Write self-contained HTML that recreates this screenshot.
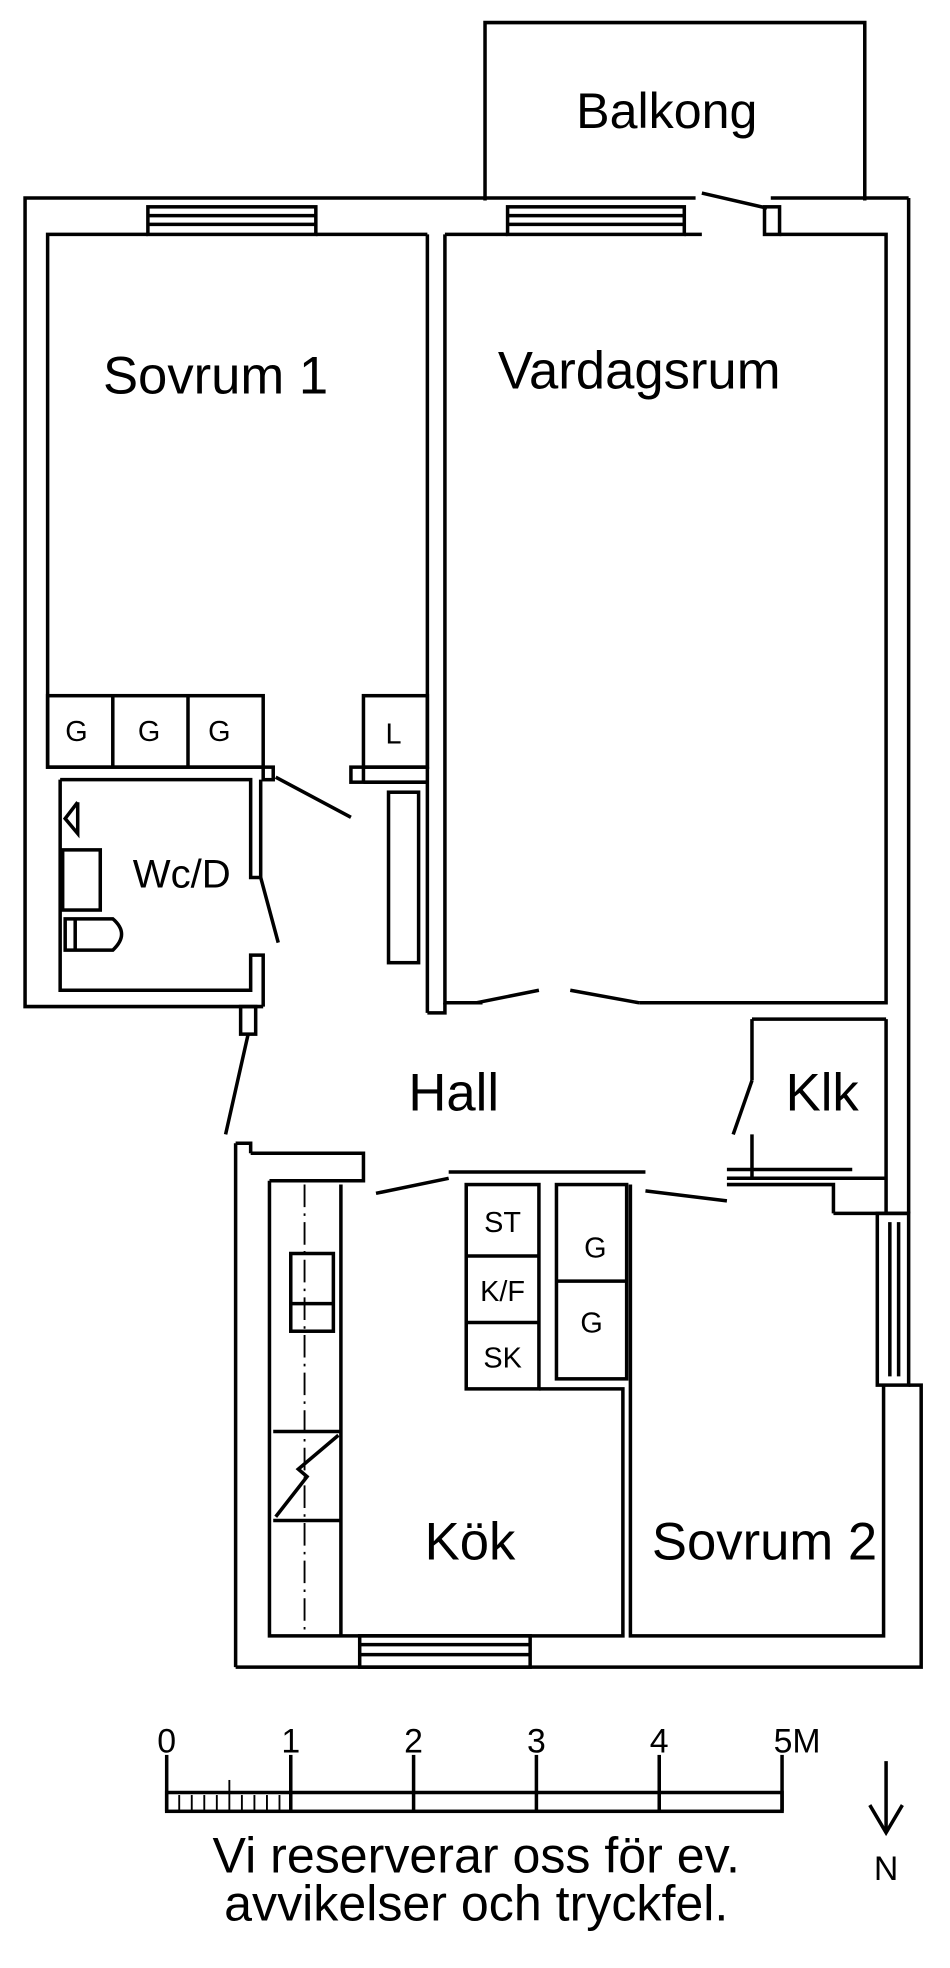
<!DOCTYPE html>
<html><head><meta charset="utf-8"><style>
html,body{margin:0;padding:0;background:#fff;width:950px;height:1968px;overflow:hidden}
svg{display:block}
text{font-family:"Liberation Sans",sans-serif;fill:#000}
</style></head><body>
<svg width="950" height="1968" viewBox="0 0 758 1570" preserveAspectRatio="none" xmlns="http://www.w3.org/2000/svg">
<g fill="none" stroke="#000" stroke-width="2.8">
<polyline points="387,160 387,18 690,18 690,160"/>
<polyline points="555,158 20,158 20,803 210,803"/>
<line x1="615" y1="158" x2="725" y2="158"/>
<polyline points="725,158 725,968"/>
<rect x="118" y="165" width="134" height="22"/><line x1="118" y1="172" x2="252" y2="172"/><line x1="118" y1="179" x2="252" y2="179"/>
<rect x="405" y="165" width="141" height="22"/><line x1="405" y1="172" x2="546" y2="172"/><line x1="405" y1="179" x2="546" y2="179"/>
<rect x="610" y="165" width="12" height="22"/>
<line x1="560" y1="154" x2="612" y2="166"/>
<polyline points="118,187 38,187 38,612 210,612"/>
<line x1="252" y1="187" x2="341" y2="187"/>
<polyline points="341,187 341,612 290,612"/>
<line x1="355" y1="187" x2="405" y2="187"/>
<polyline points="546,187 560,187"/>
<polyline points="622,187 707,187 707,800 510,800"/>
<polyline points="355,187 355,800 385,800"/>
<line x1="341" y1="612" x2="341" y2="808"/>
<polyline points="341,808 355,808 355,800"/>
<line x1="380" y1="800" x2="430" y2="790"/>
<line x1="455" y1="790" x2="510" y2="800"/>
<rect x="38" y="555" width="172" height="57"/>
<line x1="90" y1="555" x2="90" y2="612"/><line x1="150" y1="555" x2="150" y2="612"/>
<rect x="290" y="555" width="51" height="57"/>
<rect x="210" y="612" width="8" height="10"/>
<line x1="220" y1="620" x2="280" y2="652"/>
<rect x="280" y="612" width="10" height="12"/>
<line x1="290" y1="624" x2="341" y2="624"/>
<rect x="310" y="632" width="24" height="136"/>
<polyline points="48,622 48,790 200,790 200,762 210,762 210,803"/>
<polyline points="48,622 200,622 200,700 208,700 208,622"/>
<line x1="208" y1="700" x2="222" y2="752"/>
<polyline points="62,640 52,653 62,665 62,640"/>
<rect x="50" y="678" width="30" height="48"/>
<path d="M52,733 L90,733 Q104,745 90,758 L52,758 Z M60,733 L60,758"/>
<rect x="192" y="803" width="12" height="22"/>
<line x1="198" y1="825" x2="180" y2="905"/>
<polyline points="188,912 200,912 200,920"/>
<line x1="188" y1="912" x2="188" y2="1330"/>
<polyline points="600,813 600,862"/>
<polyline points="600,813 707,813"/>
<polyline points="600,905 600,940 707,940"/>
<line x1="600" y1="862" x2="585" y2="905"/>
<polyline points="580,940 600,940"/>
<line x1="707" y1="813" x2="707" y2="968"/>
<polyline points="200,920 290,920 290,942 215,942"/>
<line x1="300" y1="952" x2="358" y2="940"/>
<polyline points="358,935 515,935"/>
<line x1="515" y1="950" x2="580" y2="958"/>
<line x1="580" y1="933" x2="680" y2="933"/>
<polyline points="580,945 665,945 665,968"/>
<polyline points="215,942 215,1305 497,1305 497,1108 430,1108"/>
<line x1="272" y1="945" x2="272" y2="1305"/>
<line x1="243" y1="945" x2="243" y2="1305" stroke-dasharray="18,5,2,5" stroke-width="1.5"/>
<rect x="232" y="1000" width="34" height="62"/>
<line x1="232" y1="1040" x2="266" y2="1040"/>
<line x1="218" y1="1142" x2="272" y2="1142"/>
<line x1="218" y1="1213" x2="272" y2="1213"/>
<polyline points="220,1210 245,1178 238,1172 270,1145"/>
<rect x="372" y="945" width="58" height="163"/>
<line x1="372" y1="1002" x2="430" y2="1002"/><line x1="372" y1="1055" x2="430" y2="1055"/>
<rect x="444" y="945" width="56" height="155"/>
<line x1="444" y1="1022" x2="500" y2="1022"/>
<polyline points="503,945 503,1305 705,1305 705,1105"/>
<polyline points="665,968 725,968"/>
<rect x="700" y="968" width="25" height="137"/>
<line x1="710" y1="975" x2="710" y2="1098"/><line x1="717" y1="975" x2="717" y2="1098"/>
<polyline points="725,1105 735,1105 735,1330 188,1330"/>
<rect x="287" y="1305" width="136" height="25"/>
<line x1="287" y1="1312" x2="423" y2="1312"/><line x1="287" y1="1320" x2="423" y2="1320"/>
<rect x="133" y="1430" width="491" height="15"/>
<line x1="133" y1="1400" x2="133" y2="1445"/>
<line x1="232" y1="1400" x2="232" y2="1445"/>
<line x1="330" y1="1400" x2="330" y2="1445"/>
<line x1="428" y1="1400" x2="428" y2="1445"/>
<line x1="526" y1="1400" x2="526" y2="1445"/>
<line x1="624" y1="1400" x2="624" y2="1445"/>
<g stroke-width="1.5">
<line x1="143" y1="1432" x2="143" y2="1445"/><line x1="153" y1="1432" x2="153" y2="1445"/><line x1="163" y1="1432" x2="163" y2="1445"/><line x1="173" y1="1432" x2="173" y2="1445"/><line x1="183" y1="1420" x2="183" y2="1445"/><line x1="193" y1="1432" x2="193" y2="1445"/><line x1="203" y1="1432" x2="203" y2="1445"/><line x1="213" y1="1432" x2="213" y2="1445"/><line x1="223" y1="1432" x2="223" y2="1445"/>
</g>
<line x1="707" y1="1405" x2="707" y2="1462"/>
<polyline points="694,1440 707,1462 720,1440"/>
</g>
<g font-size="42" text-anchor="middle">
<text x="532" y="102" font-size="40">Balkong</text>
<text x="172" y="314">Sovrum 1</text>
<text x="510" y="310">Vardagsrum</text>
<text x="362" y="886">Hall</text>
<text x="656" y="886">Klk</text>
<text x="375" y="1244">Kök</text>
<text x="610" y="1244">Sovrum 2</text>
</g>
<g font-size="23" text-anchor="middle">
<text x="61" y="591">G</text><text x="119" y="591">G</text><text x="175" y="591">G</text>
<text x="314" y="593">L</text>
<text x="401" y="983">ST</text><text x="401" y="1038">K/F</text><text x="401" y="1091">SK</text>
<text x="475" y="1003">G</text><text x="472" y="1063">G</text>
</g>
<text x="145" y="708" font-size="32" text-anchor="middle">Wc/D</text>
<g font-size="27" text-anchor="middle">
<text x="133" y="1398">0</text><text x="232" y="1398">1</text><text x="330" y="1398">2</text><text x="428" y="1398">3</text><text x="526" y="1398">4</text><text x="636" y="1398">5M</text>
<text x="707" y="1500">N</text>
</g>
<g font-size="40" text-anchor="middle">
<text x="380" y="1494">Vi reserverar oss för ev.</text>
<text x="380" y="1532">avvikelser och tryckfel.</text>
</g>
</svg>
</body></html>
